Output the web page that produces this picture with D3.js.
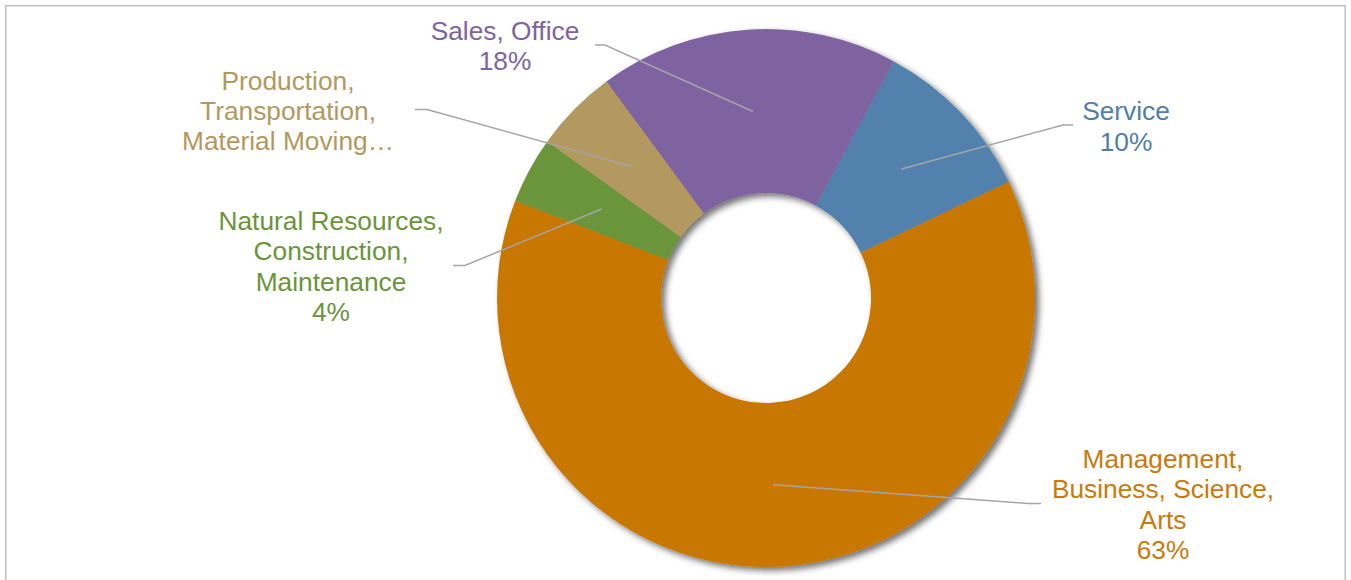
<!DOCTYPE html>
<html>
<head>
<meta charset="utf-8">
<script src="https://cdn.jsdelivr.net/npm/d3@7"></script>
<style>
  html, body { margin: 0; padding: 0; background: #ffffff; }
  svg { display: block; }
  text { font-family: "Liberation Sans", Arial, sans-serif; }
</style>
</head>
<body>
<svg id="chart" width="1351" height="580"></svg>
<script>
// Occupation groups, in drawing order (clockwise)
const categories = [
  "Sales, Office",
  "Service",
  "Management, Business, Science, Arts",
  "Natural Resources, Construction, Maintenance",
  "Production, Transportation, Material Moving"
];
// Share of workers, percent
const values = [18, 10, 63, 4, 5];
// Label text as shown, line by line
const labelLines = [
  ["Sales, Office"],
  ["Service"],
  ["Management,", "Business, Science,", "Arts"],
  ["Natural Resources,", "Construction,", "Maintenance"],
  ["Production,", "Transportation,", "Material Moving…"]
];
// Whether the percentage line fits in the label
const showPercent = [true, true, true, true, false];

const colors = ["#7f63a1", "#5181ac", "#c87700", "#6b953b", "#b3985e"];
const textColors = ["#7f63a1", "#4f7eab", "#c97a0c", "#6a943a", "#b3985e"];

// Label layout: text centre x, first baseline y, elbow of leader line
const labelLayout = [
  { x: 505, y: 40, lineH: 29.5, elbowA: [595, 45], elbowB: [605, 45] },
  { x: 1126, y: 120, lineH: 31, elbowA: [1073, 125], elbowB: [1063, 125] },
  { x: 1163, y: 467.5, lineH: 30.5, elbowA: [1041, 503.5], elbowB: [1028, 503.5] },
  { x: 331, y: 230, lineH: 30.3, elbowA: [453, 265.5], elbowB: [465, 265.5] },
  { x: 288, y: 89.5, lineH: 30.3, elbowA: [415, 109.5], elbowB: [427, 109.5] }
];

const svg = d3.select("#chart");
const cx = 766, cy = 298, outerR = 269, innerR = 105;
const startDeg = -36.4;

// Chart frame
svg.append("path")
  .attr("d", "M5.75,590 V5.75 H1345.25 V590")
  .attr("fill", "none")
  .attr("stroke", "#c0c0c0")
  .attr("stroke-width", 1.5);

const defs = svg.append("defs");
const f = defs.append("filter").attr("id", "ringShadow")
  .attr("x", "-20%").attr("y", "-20%").attr("width", "140%").attr("height", "140%");
f.append("feDropShadow")
  .attr("dx", 4).attr("dy", 3.5).attr("stdDeviation", 3)
  .attr("flood-color", "#000").attr("flood-opacity", 0.55);

const pie = d3.pie().value(d => d).sort(null)
  .startAngle(startDeg * Math.PI / 180)
  .endAngle((startDeg + 360) * Math.PI / 180);
const arcs = pie(values);
const arc = d3.arc().innerRadius(innerR).outerRadius(outerR);

const g = svg.append("g").attr("transform", `translate(${cx},${cy})`);
g.append("g").attr("filter", "url(#ringShadow)")
  .selectAll("path")
  .data(arcs)
  .join("path")
  .attr("d", arc)
  .attr("fill", (d, i) => colors[i]);

// Leader lines from slice centroid to label
const lines = svg.append("g");
arcs.forEach((a, i) => {
  const c = arc.centroid(a);
  const L = labelLayout[i];
  const pts = [L.elbowA, L.elbowB, [cx + c[0], cy + c[1]]];
  lines.append("path")
    .attr("d", d3.line()(pts))
    .attr("fill", "none")
    .attr("stroke", "#a6a6a6")
    .attr("stroke-width", 1.5);
});

// Labels
const labels = svg.append("g");
arcs.forEach((a, i) => {
  const L = labelLayout[i];
  const rows = labelLines[i].slice();
  if (showPercent[i]) rows.push(values[i] + "%");
  const t = labels.append("text")
    .attr("text-anchor", "middle")
    .attr("font-size", 26.3)
    .attr("fill", textColors[i]);
  rows.forEach((r, k) => {
    t.append("tspan").attr("x", L.x).attr("y", L.y + k * L.lineH).text(r);
  });
});
</script>
</body>
</html>
